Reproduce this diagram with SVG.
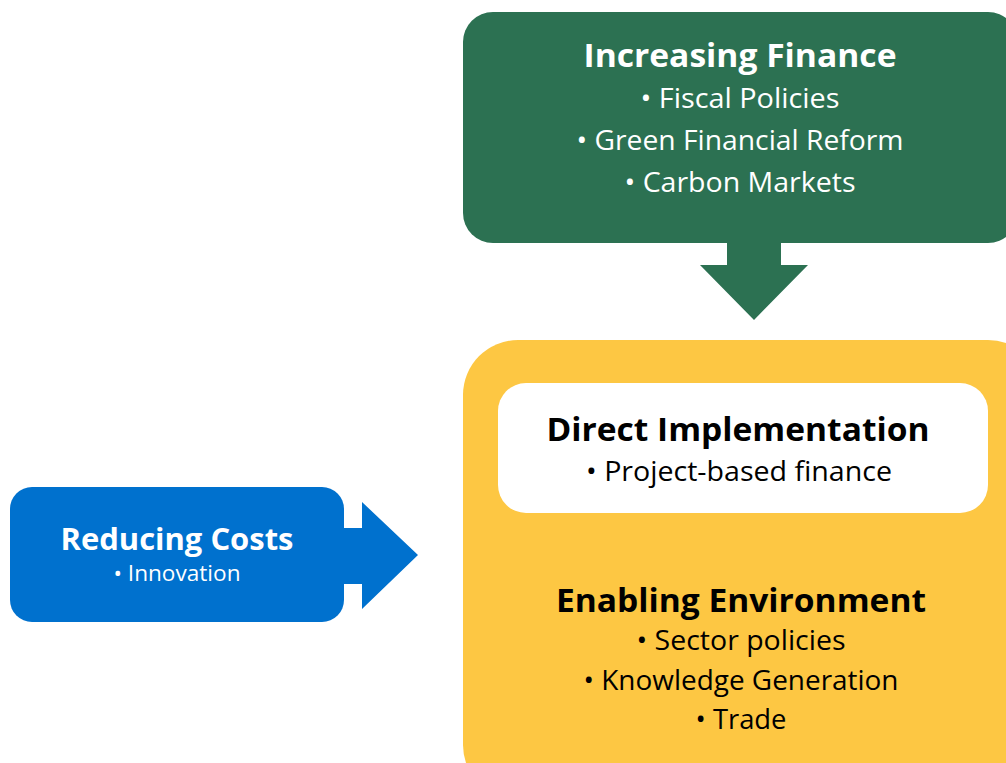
<svg xmlns="http://www.w3.org/2000/svg" width="1006" height="763" viewBox="0 0 1006 763">
<style>
.t{font-family:"Open Sans","Noto Sans",sans-serif;text-anchor:middle}
.h{font-weight:700;font-size:33px}
.b{font-size:27px}
.w{fill:#ffffff}
.k{fill:#000000}
</style>
<rect width="1006" height="763" fill="#ffffff"/>
<g id="connectors">
<polygon fill="#2C7152" points="727,240 781,240 781,265 808,265 754,320 700,265 727,265"/>
<polygon fill="#0071CE" points="340,528 362,528 362,502 418,555 362,609 362,584 340,584"/>
</g>
<g id="increasing-finance">
<rect x="463" y="12" width="555" height="231" rx="30" fill="#2C7152"/>
<text class="t h w" x="740" y="67" textLength="313" lengthAdjust="spacingAndGlyphs">Increasing Finance</text>
<text class="t b w" x="740" y="108" textLength="199" lengthAdjust="spacingAndGlyphs">• Fiscal Policies</text>
<text class="t b w" x="740" y="150" textLength="327" lengthAdjust="spacingAndGlyphs">• Green Financial Reform</text>
<text class="t b w" x="740" y="192" textLength="231" lengthAdjust="spacingAndGlyphs">• Carbon Markets</text>
</g>
<g id="reducing-costs">
<rect x="10" y="487" width="334" height="135" rx="22" fill="#0071CE"/>
<text class="t w" x="177" y="550" textLength="233" lengthAdjust="spacingAndGlyphs" style="font-weight:700;font-size:30px">Reducing Costs</text>
<text class="t w" x="177" y="581" textLength="127" lengthAdjust="spacingAndGlyphs" style="font-size:21px">• Innovation</text>
</g>
<g id="enabling-environment">
<rect x="463" y="340" width="580" height="460" rx="55" fill="#FDC743"/>
<text class="t h k" x="741" y="612" textLength="370" lengthAdjust="spacingAndGlyphs">Enabling Environment</text>
<text class="t b k" x="741" y="650" textLength="209" lengthAdjust="spacingAndGlyphs">• Sector policies</text>
<text class="t b k" x="741" y="690" textLength="315" lengthAdjust="spacingAndGlyphs">• Knowledge Generation</text>
<text class="t b k" x="741" y="729" textLength="91" lengthAdjust="spacingAndGlyphs">• Trade</text>
</g>
<g id="direct-implementation">
<rect x="498" y="383" width="490" height="130" rx="28" fill="#ffffff"/>
<text class="t h k" x="738" y="441" textLength="383" lengthAdjust="spacingAndGlyphs">Direct Implementation</text>
<text class="t b k" x="739" y="481" textLength="306" lengthAdjust="spacingAndGlyphs">• Project-based finance</text>
</g>
</svg>
